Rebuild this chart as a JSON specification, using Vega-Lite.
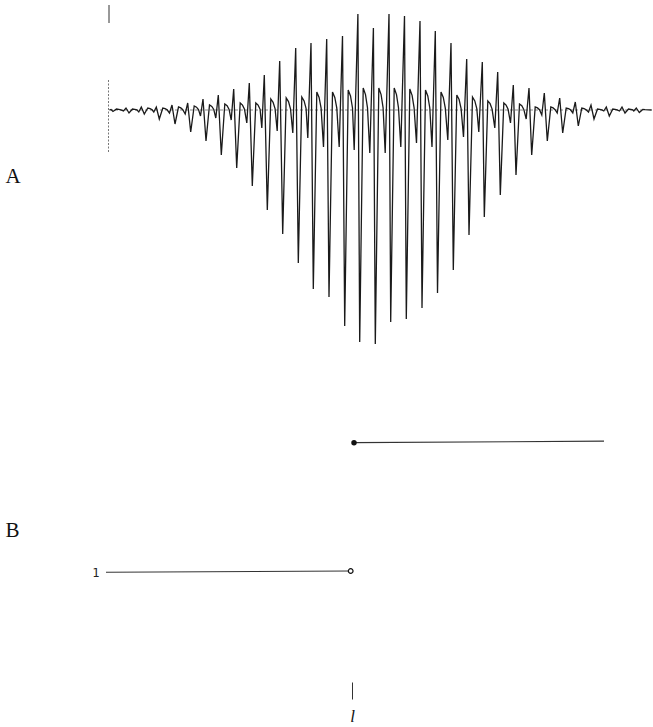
{
  "$schema": "https://vega.github.io/schema/vega-lite/v6.json",
  "padding": {"left": 5, "top": 0, "right": 0, "bottom": 0},
  "spacing": 50,
  "config": {"view": {"stroke": null}, "axis": {"grid": false}},
  "vconcat": [
    {
      "width": 548,
      "height": 350,
      "layer": [
        {
          "data": {"values": [{"x": -242, "x2": 290, "a": 0}]},
          "mark": {"type": "rule", "strokeDash": [3, 2], "color": "#555", "strokeWidth": 0.7},
          "encoding": {
            "x": {"field": "x", "type": "quantitative", "scale": {"domain": [-247, 301], "nice": false, "zero": false}, "axis": null},
            "x2": {"field": "x2"},
            "y": {"field": "a", "type": "quantitative", "scale": {"domain": [-240, 110], "nice": false, "zero": false},
              "axis": {"title": "A", "labels": false, "ticks": false, "domain": false, "grid": false, "titleAngle": 0, "titleX": -100, "titleY": 182, "titleAlign": "left", "titleBaseline": "alphabetic", "titleFont": "Liberation Serif", "titleFontSize": 21, "titleFontWeight": "normal", "titleColor": "#111"}}
          }
        },
        {
          "data": {"values": [{"x": -243, "a": 105, "a2": 87}]},
          "mark": {"type": "rule", "color": "#333", "strokeWidth": 1},
          "encoding": {
            "x": {"field": "x", "type": "quantitative"},
            "y": {"field": "a", "type": "quantitative"},
            "y2": {"field": "a2"}
          }
        },
        {
          "data": {"values": [{"x": -243.5, "a": 30, "a2": -43}]},
          "mark": {"type": "rule", "color": "#555", "strokeWidth": 0.8, "strokeDash": [2, 1.5]},
          "encoding": {
            "x": {"field": "x", "type": "quantitative"},
            "y": {"field": "a", "type": "quantitative"},
            "y2": {"field": "a2"}
          }
        },
        {
          "data": {"values": [
            {"x": -242.7, "a": 0}, {"x": -241, "a": 0.5}, {"x": -239, "a": -1.5}, {"x": -235.5, "a": 1}, {"x": -233.2, "a": 0.7}, {"x": -231.2, "a": 0.1}, {"x": -228.5, "a": -1},
            {"x": -226, "a": 2}, {"x": -223, "a": -3}, {"x": -219.5, "a": 1}, {"x": -217.2, "a": 0.7}, {"x": -215.2, "a": 0.1}, {"x": -213.2, "a": -2},
            {"x": -210.7, "a": 3}, {"x": -207.7, "a": -4}, {"x": -204.2, "a": 2}, {"x": -201.9, "a": 1.4}, {"x": -199.9, "a": 0.2}, {"x": -198.2, "a": -2},
            {"x": -195.7, "a": 3}, {"x": -192.7, "a": -9}, {"x": -189.2, "a": 2}, {"x": -186.9, "a": 1.4}, {"x": -184.9, "a": 0.2}, {"x": -182.5, "a": -3},
            {"x": -180, "a": 5}, {"x": -177, "a": -14}, {"x": -173.5, "a": 3}, {"x": -171.2, "a": 2.1}, {"x": -169.2, "a": 0.3}, {"x": -166.8, "a": -4},
            {"x": -164.3, "a": 7}, {"x": -161.3, "a": -22}, {"x": -157.8, "a": 4}, {"x": -155.5, "a": 2.8}, {"x": -153.5, "a": 0.4}, {"x": -151.5, "a": -6},
            {"x": -149, "a": 11}, {"x": -146, "a": -31}, {"x": -142.5, "a": 5}, {"x": -140.2, "a": 3.5}, {"x": -138.2, "a": 0.5}, {"x": -136.2, "a": -8},
            {"x": -133.7, "a": 15}, {"x": -130.7, "a": -45}, {"x": -127.2, "a": 6}, {"x": -124.9, "a": 4.2}, {"x": -122.9, "a": 0.6}, {"x": -120.8, "a": -10},
            {"x": -118.3, "a": 21}, {"x": -115.3, "a": -58}, {"x": -111.8, "a": 7}, {"x": -109.5, "a": 4.9}, {"x": -107.5, "a": 0.7}, {"x": -105.2, "a": -13},
            {"x": -102.7, "a": 27}, {"x": -99.7, "a": -76}, {"x": -96.2, "a": 7}, {"x": -93.9, "a": 4.9}, {"x": -91.9, "a": 0.7}, {"x": -90.2, "a": -18},
            {"x": -87.7, "a": 35}, {"x": -84.7, "a": -100}, {"x": -81.2, "a": 11}, {"x": -78.9, "a": 7.7}, {"x": -76.9, "a": 1.1}, {"x": -74.8, "a": -21},
            {"x": -72.3, "a": 49}, {"x": -69.3, "a": -124}, {"x": -65.8, "a": 12}, {"x": -63.5, "a": 8.4}, {"x": -61.5, "a": 1.2}, {"x": -59.2, "a": -23},
            {"x": -56.3, "a": 62}, {"x": -53.7, "a": -153}, {"x": -50.2, "a": 13}, {"x": -47.9, "a": 9.1}, {"x": -45.9, "a": 1.3}, {"x": -44.2, "a": -28},
            {"x": -41, "a": 67}, {"x": -38.7, "a": -179}, {"x": -35.2, "a": 18}, {"x": -32.9, "a": 12.6}, {"x": -30.9, "a": 1.8}, {"x": -28.5, "a": -37},
            {"x": -25.3, "a": 71}, {"x": -23, "a": -187}, {"x": -19.5, "a": 18}, {"x": -17.2, "a": 12.6}, {"x": -15.2, "a": 1.8}, {"x": -12.8, "a": -37},
            {"x": -9.5, "a": 74}, {"x": -7.3, "a": -216}, {"x": -3.8, "a": 20}, {"x": -1.5, "a": 14}, {"x": 0.5, "a": 2}, {"x": 2.2, "a": -40},
            {"x": 5.9, "a": 96}, {"x": 7.7, "a": -232}, {"x": 11.2, "a": 22}, {"x": 13.5, "a": 15.4}, {"x": 15.5, "a": 2.2}, {"x": 17.8, "a": -43},
            {"x": 21.4, "a": 82}, {"x": 23.3, "a": -234}, {"x": 26.8, "a": 22}, {"x": 29.1, "a": 15.4}, {"x": 31.1, "a": 2.2}, {"x": 33.2, "a": -43},
            {"x": 37, "a": 96}, {"x": 38.7, "a": -212}, {"x": 42.2, "a": 22}, {"x": 44.5, "a": 15.4}, {"x": 46.5, "a": 2.2}, {"x": 48.8, "a": -37},
            {"x": 52.5, "a": 94}, {"x": 54.3, "a": -209}, {"x": 57.8, "a": 21}, {"x": 60.1, "a": 14.7}, {"x": 62.1, "a": 2.1}, {"x": 64.5, "a": -33},
            {"x": 68, "a": 89}, {"x": 70, "a": -198}, {"x": 73.5, "a": 20}, {"x": 75.8, "a": 14}, {"x": 77.8, "a": 2}, {"x": 80, "a": -37},
            {"x": 83.3, "a": 79}, {"x": 85.5, "a": -183}, {"x": 89, "a": 18}, {"x": 91.3, "a": 12.6}, {"x": 93.3, "a": 1.8}, {"x": 95.8, "a": -30},
            {"x": 99, "a": 67}, {"x": 101.3, "a": -160}, {"x": 104.8, "a": 15}, {"x": 107.1, "a": 10.5}, {"x": 109.1, "a": 1.5}, {"x": 111.5, "a": -27},
            {"x": 114.7, "a": 51}, {"x": 117, "a": -125}, {"x": 120.5, "a": 13}, {"x": 122.8, "a": 9.1}, {"x": 124.8, "a": 1.3}, {"x": 126.8, "a": -22},
            {"x": 130.3, "a": 48}, {"x": 132.3, "a": -107}, {"x": 135.8, "a": 9}, {"x": 138.1, "a": 6.3}, {"x": 140.1, "a": 0.9}, {"x": 142.8, "a": -18},
            {"x": 145.7, "a": 38}, {"x": 148.3, "a": -85}, {"x": 151.8, "a": 7}, {"x": 154.1, "a": 4.9}, {"x": 156.1, "a": 0.7}, {"x": 158.5, "a": -13},
            {"x": 161.3, "a": 25}, {"x": 164, "a": -65}, {"x": 167.5, "a": 6}, {"x": 169.8, "a": 4.2}, {"x": 171.8, "a": 0.6}, {"x": 174.2, "a": -9},
            {"x": 177, "a": 22}, {"x": 179.7, "a": -45}, {"x": 183.2, "a": 3}, {"x": 185.5, "a": 2.1}, {"x": 187.5, "a": 0.3}, {"x": 189.8, "a": -5},
            {"x": 192.3, "a": 17}, {"x": 195.3, "a": -31}, {"x": 198.8, "a": 3}, {"x": 201.1, "a": 2.1}, {"x": 203.1, "a": 0.3}, {"x": 205.2, "a": -3},
            {"x": 207.7, "a": 12}, {"x": 210.7, "a": -23}, {"x": 214.2, "a": 2}, {"x": 216.5, "a": 1.4}, {"x": 218.5, "a": 0.2}, {"x": 220.8, "a": -3},
            {"x": 223.3, "a": 8}, {"x": 226.3, "a": -16}, {"x": 229.8, "a": 2}, {"x": 232.1, "a": 1.4}, {"x": 234.1, "a": 0.2}, {"x": 236.5, "a": -2},
            {"x": 239, "a": 5}, {"x": 242, "a": -9}, {"x": 245.5, "a": 1}, {"x": 247.8, "a": 0.7}, {"x": 249.8, "a": 0.1}, {"x": 251.8, "a": -1},
            {"x": 254.3, "a": 3}, {"x": 257.3, "a": -6}, {"x": 260.8, "a": 1}, {"x": 263.1, "a": 0.7}, {"x": 265.1, "a": 0.1}, {"x": 267.5, "a": -1},
            {"x": 270, "a": 3}, {"x": 273, "a": -3}, {"x": 276.5, "a": 1}, {"x": 278.8, "a": 0.7}, {"x": 280.8, "a": 0.1}, {"x": 281.8, "a": -1},
            {"x": 284.3, "a": 2}, {"x": 287.3, "a": -2.5}, {"x": 290.8, "a": 0.5}, {"x": 293, "a": 0.3}, {"x": 299.7, "a": 0}
          ]},
          "mark": {"type": "line", "color": "#1a1a1a", "strokeWidth": 1.3},
          "encoding": {
            "x": {"field": "x", "type": "quantitative"},
            "y": {"field": "a", "type": "quantitative"}
          }
        }
      ]
    },
    {
      "width": 548,
      "height": 282,
      "layer": [
        {
          "data": {"values": [
            {"x": -246, "v": 0.998, "seg": "left"}, {"x": -1.3, "v": 1.008, "seg": "left"},
            {"x": 2, "v": 1.995, "seg": "right"}, {"x": 252, "v": 2.007, "seg": "right"}
          ]},
          "mark": {"type": "line", "color": "#333", "strokeWidth": 1.1},
          "encoding": {
            "x": {"field": "x", "type": "quantitative", "scale": {"domain": [-247, 301], "nice": false, "zero": false},
              "axis": {"values": [0], "labelExpr": "'l'", "title": null, "domain": false, "grid": false, "tickSize": 17, "tickColor": "#333", "tickWidth": 1, "labelFont": "Liberation Serif", "labelFontStyle": "italic", "labelFontSize": 17, "labelPadding": 9, "labelColor": "#111"}},
            "y": {"field": "v", "type": "quantitative", "scale": {"domain": [0.15385, 2.32308], "nice": false, "zero": false},
              "axis": {"values": [1], "format": "d", "title": "B", "domain": false, "grid": false, "ticks": false, "tickSize": 0, "labelPadding": 6, "labelFont": "DejaVu Sans Mono", "labelFontSize": 12, "labelColor": "#222", "titleAngle": 0, "titleX": -100, "titleY": 136, "titleAlign": "left", "titleBaseline": "alphabetic", "titleFont": "Liberation Serif", "titleFontSize": 21, "titleFontWeight": "normal", "titleColor": "#111"}},
            "detail": {"field": "seg"}
          }
        },
        {
          "data": {"values": [{"x": -1.3, "v": 1.008}]},
          "mark": {"type": "point", "filled": false, "color": "#111", "fill": "white", "strokeWidth": 1.2, "size": 22, "opacity": 1},
          "encoding": {
            "x": {"field": "x", "type": "quantitative"},
            "y": {"field": "v", "type": "quantitative"}
          }
        },
        {
          "data": {"values": [{"x": 2, "v": 1.995}]},
          "mark": {"type": "point", "filled": true, "color": "#111", "size": 30, "opacity": 1},
          "encoding": {
            "x": {"field": "x", "type": "quantitative"},
            "y": {"field": "v", "type": "quantitative"}
          }
        }
      ]
    }
  ]
}
